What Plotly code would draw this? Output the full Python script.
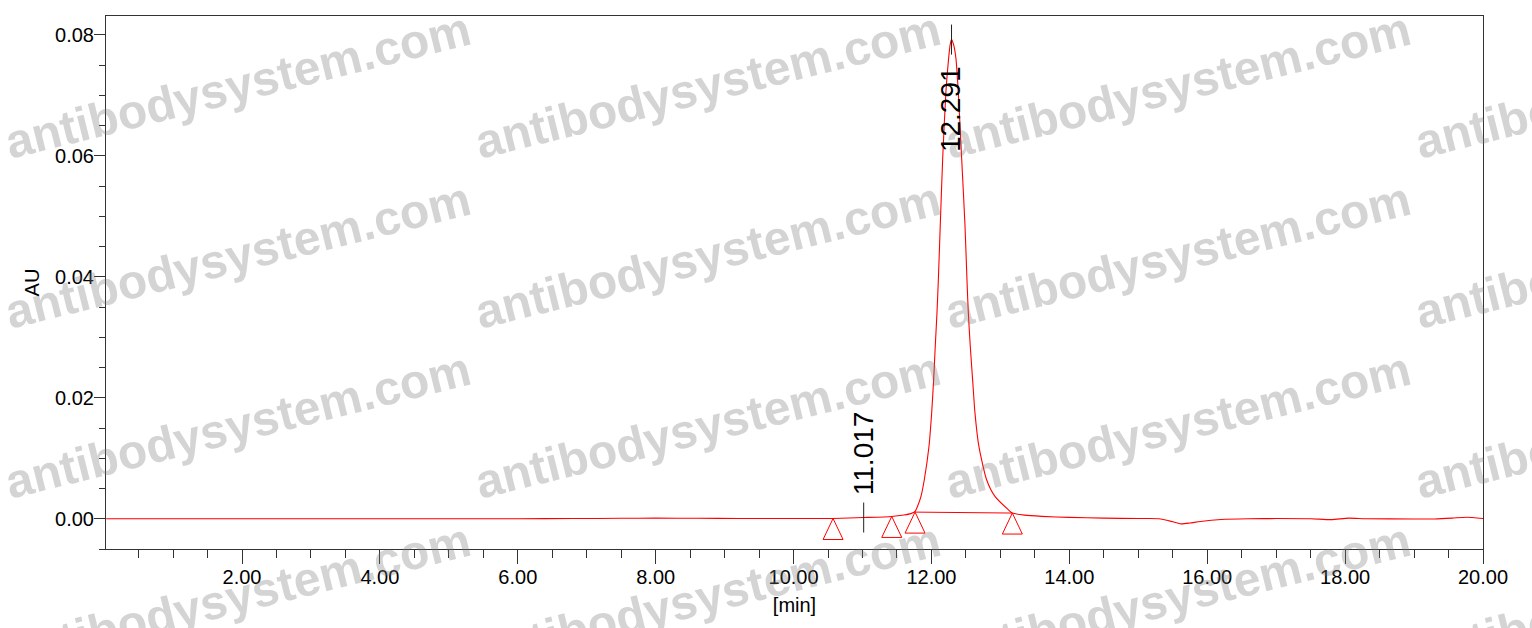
import plotly.graph_objects as go

# ---------------- data ----------------
time_min = [0.03, 1.0, 2.0, 3.0, 4.0, 5.0, 6.0, 6.8, 7.5, 8.0, 8.6, 9.2, 9.8, 10.3,
            10.573, 11.017, 11.424, 11.60, 11.70, 11.762, 11.80, 11.848, 11.896,
            11.964, 12.003, 12.032, 12.055, 12.080, 12.099, 12.128, 12.163, 12.210,
            12.249, 12.272, 12.291, 12.320, 12.355, 12.389, 12.438, 12.486, 12.516,
            12.535, 12.563, 12.597, 12.631, 12.688, 12.800, 12.921, 13.114, 13.173,
            13.35, 13.6, 14.0, 14.5, 15.0, 15.3, 15.5, 15.62, 15.75, 15.9, 16.2,
            16.6, 17.0, 17.5, 17.8, 18.05, 18.3, 19.0, 19.3, 19.55, 19.76, 20.0]
absorbance = [0.0, 0.0, 0.0, 0.0, 0.0, 0.0, 0.00001, 0.00003, 0.00008, 0.0001, 0.00008,
              0.00005, 0.00004, 0.00003,
              0.00004, 0.0002, 0.00038, 0.00062, 0.00085, 0.0012, 0.0021, 0.0037, 0.00645,
              0.01195, 0.01747, 0.0230, 0.0285, 0.0340, 0.0392, 0.0486, 0.0596, 0.0706,
              0.0761, 0.0784, 0.0792, 0.0784, 0.0761, 0.0706, 0.0596, 0.0486, 0.0392,
              0.0340, 0.0285, 0.0230, 0.0175, 0.01195, 0.00645, 0.0037, 0.0015, 0.00094,
              0.0006, 0.0004, 0.00022, 0.0001, 0.00003, 0.0, -0.0005, -0.00085, -0.0007,
              -0.00045, -0.00012,
              0.0, 0.00003, 0.0, -0.00015, 0.0001, 0.0, -0.00003, -0.00003, 0.0001,
              0.00025, 0.00005]

peak_times = [11.017, 12.291]
peak_values = [0.0002, 0.0792]
peak_labels = ["11.017", "12.291"]

event_times = [10.573, 11.424, 11.762, 13.173]
event_values = [0.00004, 0.00038, 0.0011, 0.00094]

baseline_times = [11.762, 13.173]
baseline_values = [0.0011, 0.00094]

x_ticks = [2, 4, 6, 8, 10, 12, 14, 16, 18, 20]
y_ticks = [0.0, 0.02, 0.04, 0.06, 0.08]

# ---------------- layout constants ----------------
W, H = 1532, 628
ML, MR, MT, MB = 106, 49, 16, 79
PW, PH = W - ML - MR, H - MT - MB
XR = [0.027, 20.0]
YR = [-0.005, 0.0831]
px_x = (XR[1] - XR[0]) / PW   # minutes per pixel
px_y = (YR[1] - YR[0]) / PH   # AU per pixel

FONT = "Liberation Sans, Arial, sans-serif"
RED = "#ff0000"

fig = go.Figure()

# chromatogram
fig.add_trace(go.Scatter(x=time_min, y=absorbance, mode="lines",
                         line=dict(color=RED, width=1.1, shape="spline", smoothing=0.6),
                         hoverinfo="skip", showlegend=False))

# integration baseline
fig.add_trace(go.Scatter(x=baseline_times, y=baseline_values, mode="lines",
                         line=dict(color=RED, width=1), showlegend=False, hoverinfo="skip"))

# integration event triangles (apex at event point)
tx, ty = [], []
hw, hh = 10 * px_x, 21 * px_y
for t, v in zip(event_times, event_values):
    tx += [t - hw, t, t + hw, t - hw, None]
    ty += [v - hh, v, v - hh, v - hh, None]
fig.add_trace(go.Scatter(x=tx, y=ty, mode="lines", line=dict(color=RED, width=1),
                         showlegend=False, hoverinfo="skip"))

# peak retention ticks
kx, ky = [], []
for t, v in zip(peak_times, peak_values):
    kx += [t, t, None]
    ky += [v - 15 * px_y, v + 15 * px_y, None]
fig.add_trace(go.Scatter(x=kx, y=ky, mode="lines", line=dict(color="#222222", width=1),
                         showlegend=False, hoverinfo="skip"))

annotations = []
# watermark grid
for cx in [237, 707, 1177, 1647]:
    for cy in [85, 255, 425, 596]:
        annotations.append(dict(x=(cx - ML) / PW, y=(H - MB - cy) / PH,
                                xref="paper", yref="paper", text="<b>antibodysystem.com</b>",
                                textangle=-14, showarrow=False, xanchor="center",
                                yanchor="middle",
                                font=dict(family=FONT, size=48,
                                          color="rgba(120,120,120,0.32)")))
# peak labels
annotations.append(dict(x=peak_times[0], y=peak_values[0], xref="x", yref="y",
                        text=peak_labels[0], textangle=-90, showarrow=False,
                        xanchor="center", yanchor="bottom", yshift=20,
                        font=dict(family=FONT, size=28, color="black")))
annotations.append(dict(x=peak_times[1], y=peak_values[1], xref="x", yref="y",
                        text=peak_labels[1], textangle=-90, showarrow=False,
                        xanchor="center", yanchor="top", yshift=-25, xshift=-1,
                        font=dict(family=FONT, size=28, color="black")))

axis_common = dict(showline=True, linecolor="#333333", linewidth=1, mirror=True,
                   showgrid=False, zeroline=False, ticks="outside", tickcolor="#333333",
                   ticklabelstandoff=-4,
                   tickfont=dict(family=FONT, size=20, color="black"))

fig.update_layout(
    width=W, height=H,
    margin=dict(l=ML, r=MR, t=MT, b=MB, autoexpand=False),
    paper_bgcolor="white", plot_bgcolor="white",
    annotations=annotations,
    xaxis=dict(range=XR, tickvals=x_ticks, tickformat=".2f", ticklen=14,
               minor=dict(tick0=0, dtick=0.5, ticklen=8, ticks="outside",
                          tickcolor="#333333"),
               title=dict(text="[min]", font=dict(family=FONT, size=20, color="black"),
                          standoff=10),
               **axis_common),
    yaxis=dict(range=YR, tickvals=y_ticks, tickformat=".2f", ticklen=11,
               minor=dict(tick0=0, dtick=0.005, ticklen=6, ticks="outside",
                          tickcolor="#333333"),
               title=dict(text="AU", font=dict(family=FONT, size=20, color="black"),
                          standoff=10),
               **axis_common),
)

fig.write_html("out.html", config={"displayModeBar": False},
               post_script="document.body.style.margin='0';")
